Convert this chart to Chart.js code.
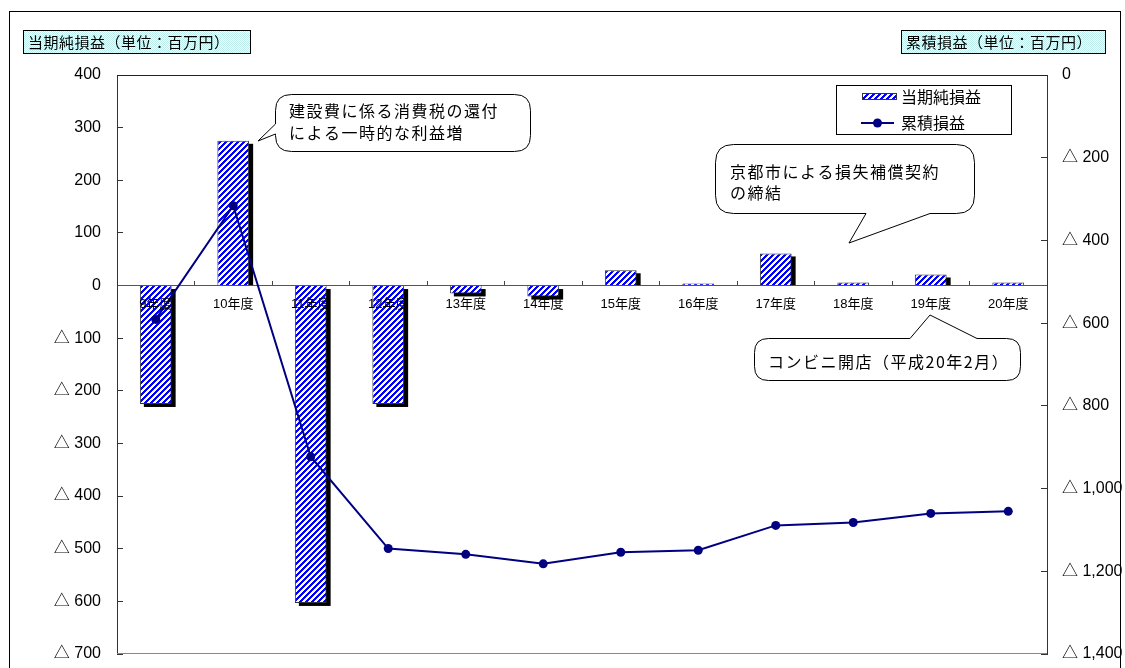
<!DOCTYPE html>
<html><head><meta charset="utf-8">
<script src="https://cdn.jsdelivr.net/npm/chart.js@4.4.0/dist/chart.umd.min.js"></script>
<style>html,body{margin:0;padding:0;background:#fff;}#wrap{width:1125px;height:668px;position:relative;}</style>
</head><body><div id="wrap"><canvas id="c" width="1125" height="668"></canvas></div>
<script>
const categories = ['9年度','10年度','11年度','12年度','13年度','14年度','15年度','16年度','17年度','18年度','19年度','20年度'];
const netIncome = [-225, 275, -603, -225, -15, -21, 29, 4, 61, 6, 21, 6];
const cumulative = [-591, -316, -923, -1145, -1159, -1182, -1154, -1149, -1089, -1082, -1060, -1055];
const seriesNames = ['当期純損益', '累積損益'];
const axisTitles = ['当期純損益（単位：百万円）', '累積損益（単位：百万円）'];
const leftRange = [-700, 400, 100];
const rightRange = [-1400, 0, 200];
const noteTexts = [
  ['建設費に係る消費税の還付', 'による一時的な利益増'],
  ['京都市による損失補償契約', 'の締結'],
  ['コンビニ開店（平成20年2月）']
];

const FONT = '"Liberation Sans", "Noto Sans CJK JP", sans-serif';
const JFONT = '"Noto Sans CJK JP", sans-serif';

function makeStripe() {
  const c = document.createElement('canvas'); c.width = 6; c.height = 6;
  const x = c.getContext('2d');
  x.fillStyle = '#fff'; x.fillRect(0,0,6,6);
  x.fillStyle = '#0000ff';
  for (let i = 0; i < 6; i++) for (let j = 0; j < 6; j++) {
    if (((i + j) % 6) < 3) x.fillRect(i, j, 1, 1);
  }
  return x.createPattern(c, 'repeat');
}
function makeDots() {
  const c = document.createElement('canvas'); c.width = 2; c.height = 2;
  const x = c.getContext('2d');
  x.fillStyle = '#fff'; x.fillRect(0,0,2,2);
  x.fillStyle = '#bdeeee'; x.fillRect(0,0,1,1); x.fillRect(1,1,1,1);
  return x.createPattern(c, 'repeat');
}
const stripe = makeStripe();

function fmt(v) {
  if (v === 0) return '0';
  const a = Math.abs(v).toLocaleString('en-US');
  return v < 0 ? '△ ' + a : a;
}

function balloon(ctx, x1, y1, x2, y2, r, tail) {
  ctx.beginPath();
  ctx.moveTo(x1 + r, y1);
  if (tail.side === 'top') { ctx.lineTo(tail.a, y1); ctx.lineTo(tail.tip[0], tail.tip[1]); ctx.lineTo(tail.b, y1); }
  ctx.lineTo(x2 - r, y1);
  ctx.quadraticCurveTo(x2, y1, x2, y1 + r);
  ctx.lineTo(x2, y2 - r);
  ctx.quadraticCurveTo(x2, y2, x2 - r, y2);
  if (tail.side === 'bottom') { ctx.lineTo(tail.b, y2); ctx.lineTo(tail.tip[0], tail.tip[1]); ctx.lineTo(tail.a, y2); }
  ctx.lineTo(x1 + r, y2);
  ctx.quadraticCurveTo(x1, y2, x1, y2 - r);
  if (tail.side === 'left') { ctx.lineTo(x1, tail.b); ctx.lineTo(tail.tip[0], tail.tip[1]); ctx.lineTo(x1, tail.a); }
  ctx.lineTo(x1, y1 + r);
  ctx.quadraticCurveTo(x1, y1, x1 + r, y1);
  ctx.closePath();
  ctx.fillStyle = '#fff'; ctx.fill();
  ctx.strokeStyle = '#000'; ctx.lineWidth = 1; ctx.stroke();
}

const deco = {
  id: 'deco',
  beforeDraw(chart) {
    const ctx = chart.ctx;
    ctx.save(); ctx.fillStyle = '#fff'; ctx.fillRect(0, 0, chart.width, chart.height); ctx.restore();
  },
  beforeDatasetsDraw(chart) {
    const ctx = chart.ctx;
    const meta = chart.getDatasetMeta(0);
    ctx.save(); ctx.fillStyle = '#000';
    meta.data.forEach(el => {
      const left = el.x - el.width / 2;
      const top = Math.min(el.y, el.base), bot = Math.max(el.y, el.base);
      if (el.y < el.base) {
        ctx.fillRect(left + 4, top + 3, el.width, Math.max(0, bot - top - 3));
      } else {
        ctx.fillRect(left + 4, top + 3, el.width, bot - top);
      }
    });
    ctx.restore();
  },
  afterDraw(chart) {
    const ctx = chart.ctx;
    const a = chart.chartArea;
    ctx.save();
    ctx.lineWidth = 1;
    ctx.strokeStyle = '#222';
    ctx.beginPath(); ctx.moveTo(a.left, a.top + 0.5); ctx.lineTo(a.right, a.top + 0.5); ctx.stroke();
    ctx.strokeStyle = '#888';
    ctx.beginPath(); ctx.moveTo(a.left, a.bottom - 0.5); ctx.lineTo(a.right, a.bottom - 0.5); ctx.stroke();
    ctx.strokeStyle = '#000';
    ctx.strokeRect(9.5, 11.5, 1111, 700);

    const dots = makeDots();
    ctx.font = '15px ' + JFONT;
    ctx.textBaseline = 'middle';
    ctx.textAlign = 'left';
    if ('letterSpacing' in ctx) ctx.letterSpacing = '0.5px';
    [[23, 30, 227, 23, axisTitles[0]], [901, 30, 204, 23, axisTitles[1]]].forEach(b => {
      ctx.fillStyle = dots; ctx.fillRect(b[0], b[1], b[2], b[3]);
      ctx.strokeStyle = '#000'; ctx.strokeRect(b[0] + 0.5, b[1] + 0.5, b[2], b[3]);
      ctx.fillStyle = '#000'; ctx.fillText(b[4], b[0] + 5, b[1] + b[3] / 2 + 1);
    });
    if ('letterSpacing' in ctx) ctx.letterSpacing = '0px';

    ctx.fillStyle = '#fff'; ctx.fillRect(836, 85, 175, 49);
    ctx.strokeStyle = '#000'; ctx.strokeRect(836.5, 85.5, 175, 49);
    ctx.fillStyle = stripe; ctx.fillRect(862, 93, 35, 7);
    ctx.strokeStyle = '#333'; ctx.strokeRect(862.5, 93.5, 34, 6);
    ctx.strokeStyle = '#000080'; ctx.lineWidth = 2;
    ctx.beginPath(); ctx.moveTo(861, 123); ctx.lineTo(894, 123); ctx.stroke();
    ctx.fillStyle = '#000080'; ctx.beginPath(); ctx.arc(877.5, 123, 4.5, 0, Math.PI * 2); ctx.fill();
    ctx.fillStyle = '#000'; ctx.font = '16px ' + JFONT;
    ctx.fillText(seriesNames[0], 901, 97);
    ctx.fillText(seriesNames[1], 901, 123);

    ctx.lineWidth = 1;
    balloon(ctx, 275.5, 94.5, 530.5, 151.5, 16, {side: 'left', a: 124, b: 134, tip: [258, 141]});
    balloon(ctx, 715.5, 144.5, 974.5, 213.5, 18, {side: 'bottom', a: 866, b: 930, tip: [849, 243]});
    balloon(ctx, 754.5, 338.5, 1020.5, 380.5, 14, {side: 'top', a: 910, b: 977, tip: [930, 315]});
    ctx.fillStyle = '#000'; ctx.font = '16px ' + JFONT;
    if ('letterSpacing' in ctx) ctx.letterSpacing = '1.5px';
    ctx.fillText(noteTexts[0][0], 289, 111);
    ctx.fillText(noteTexts[0][1], 289, 133);
    ctx.fillText(noteTexts[1][0], 730, 172);
    ctx.fillText(noteTexts[1][1], 730, 193);
    ctx.fillText(noteTexts[2][0], 768, 362);
    ctx.restore();
  }
};

new Chart(document.getElementById('c'), {
  data: {
    labels: categories,
    datasets: [
      { type: 'bar', label: seriesNames[0], data: netIncome, yAxisID: 'y', order: 1,
        backgroundColor: stripe, borderColor: '#333', borderWidth: 1,
        categoryPercentage: 1, barPercentage: 0.41 },
      { type: 'line', label: seriesNames[1], data: cumulative, yAxisID: 'y2', order: 0,
        borderColor: '#000080', borderWidth: 2, pointRadius: 4.5, pointHoverRadius: 4.5,
        pointBackgroundColor: '#000080', pointBorderColor: '#000080', pointBorderWidth: 0, tension: 0 }
    ]
  },
  options: {
    responsive: false, animation: false, devicePixelRatio: 1,
    layout: { padding: { top: 75, bottom: 14, left: 0, right: 0 } },
    plugins: { legend: { display: false }, tooltip: { enabled: false } },
    scales: {
      x: {
        type: 'category', position: { y: 0 }, offset: true,
        grid: { display: true, drawOnChartArea: false, drawTicks: true, tickLength: -5, color: '#444', offset: true },
        border: { display: true, color: '#555', width: 1 },
        ticks: { z: 1, font: { size: 13, family: FONT }, color: '#000', padding: 16, maxRotation: 0, autoSkip: false },
        afterFit: s => { s.height = 0; s.paddingTop = 0; s.paddingBottom = 0; }
      },
      y: {
        position: 'left', min: leftRange[0], max: leftRange[1],
        grid: { drawOnChartArea: false, tickLength: -6, color: '#333' },
        border: { display: true, color: '#333', width: 1 },
        ticks: { stepSize: leftRange[2], callback: v => fmt(v), font: { size: 16, family: FONT }, color: '#000', padding: 22 },
        afterFit: s => { s.width = 117; s.paddingTop = 0; s.paddingBottom = 0; }
      },
      y2: {
        position: 'right', min: rightRange[0], max: rightRange[1],
        grid: { drawOnChartArea: false, tickLength: -6, color: '#333' },
        border: { display: true, color: '#333', width: 1 },
        ticks: { stepSize: rightRange[2], callback: v => fmt(v), font: { size: 16, family: FONT }, color: '#000', padding: 21 },
        afterFit: s => { s.width = 78; s.paddingTop = 0; s.paddingBottom = 0; }
      }
    }
  },
  plugins: [deco]
});
</script></body></html>
